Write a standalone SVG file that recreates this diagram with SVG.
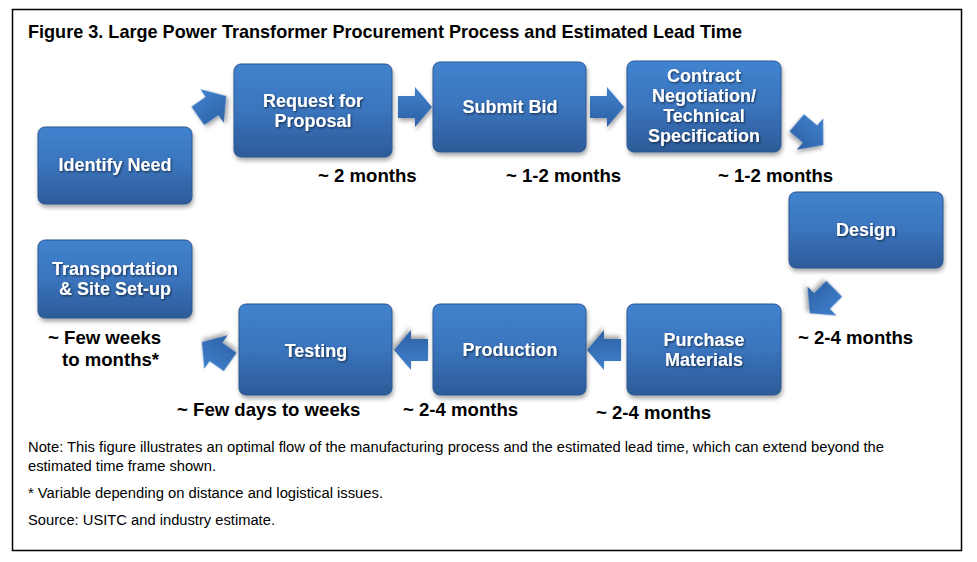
<svg xmlns="http://www.w3.org/2000/svg" width="977" height="562" viewBox="0 0 977 562">
<defs>
<linearGradient id="gBox" x1="0" y1="0" x2="0" y2="1">
<stop offset="0" stop-color="#4183cf"/>
<stop offset="0.5" stop-color="#3a74bd"/>
<stop offset="1" stop-color="#2d5b98"/>
</linearGradient>
<linearGradient id="gArr" x1="0" y1="0" x2="0" y2="1">
<stop offset="0" stop-color="#3f80cc"/>
<stop offset="1" stop-color="#2e62a6"/>
</linearGradient>
<filter id="sh" x="-10%" y="-10%" width="125%" height="130%">
<feDropShadow dx="1" dy="3" stdDeviation="2" flood-color="#000" flood-opacity="0.35"/>
</filter>
<filter id="tsh" x="-10%" y="-20%" width="120%" height="150%">
<feDropShadow dx="1" dy="1.2" stdDeviation="0.8" flood-color="#000" flood-opacity="0.6"/>
</filter>
<path id="arr" d="M-17,-11 H0 V-20 L17,0 L0,20 V11 H-17 Z"/>
</defs>
<style>
.box{fill:url(#gBox);stroke:#2a5690;stroke-width:1;filter:url(#sh)}
.bt{font-family:"Liberation Sans",Arial,sans-serif;font-weight:bold;font-size:18px;fill:#fff;text-anchor:middle;filter:url(#tsh)}
.lbl{font-family:"Liberation Sans",Arial,sans-serif;font-weight:bold;font-size:18.6px;fill:#000}
.note{font-family:"Liberation Sans",Arial,sans-serif;font-size:14px;fill:#000}
.ar{fill:url(#gArr);filter:url(#sh)}
</style>
<rect x="0" y="0" width="977" height="562" fill="#fff"/>
<rect x="12.5" y="9.5" width="949" height="541" fill="#fff" stroke="#000" stroke-width="1.5"/>
<text x="28" y="38" font-family="'Liberation Sans',Arial,sans-serif" font-weight="bold" font-size="19" textLength="714" lengthAdjust="spacingAndGlyphs">Figure 3. Large Power Transformer Procurement Process and Estimated Lead Time</text>

<g id="connectors">
<use href="#arr" class="ar" transform="translate(212,106) rotate(-35) scale(1.02)"/>
<use href="#arr" class="ar" transform="translate(415,107)"/>
<use href="#arr" class="ar" transform="translate(607,107)"/>
<use href="#arr" class="ar" transform="translate(810,134) rotate(40) scale(1.02)"/>
<use href="#arr" class="ar" transform="translate(822,301) rotate(135) scale(1.02)"/>
<use href="#arr" class="ar" transform="translate(604,350) rotate(180)"/>
<use href="#arr" class="ar" transform="translate(411,350) rotate(180)"/>
<use href="#arr" class="ar" transform="translate(216,352) rotate(215) scale(1.02)"/>
</g>

<g id="identify">
<rect class="box" x="38" y="127" width="154" height="77" rx="7"/>
<text class="bt" x="115" y="171">Identify Need</text>
</g>
<g id="rfp">
<rect class="box" x="234" y="64" width="158" height="93" rx="7"/>
<text class="bt" x="313" y="107">Request for</text>
<text class="bt" x="313" y="127">Proposal</text>
</g>
<g id="bid">
<rect class="box" x="433" y="62" width="153" height="90" rx="7"/>
<text class="bt" x="510" y="113">Submit Bid</text>
</g>
<g id="contract">
<rect class="box" x="627" y="61" width="154" height="91" rx="7"/>
<text class="bt" x="704" y="82">Contract</text>
<text class="bt" x="704" y="102">Negotiation/</text>
<text class="bt" x="704" y="122">Technical</text>
<text class="bt" x="704" y="142">Specification</text>
</g>
<g id="design">
<rect class="box" x="789" y="192" width="154" height="76" rx="7"/>
<text class="bt" x="866" y="236">Design</text>
</g>
<g id="purchase">
<rect class="box" x="627" y="304" width="154" height="91" rx="7"/>
<text class="bt" x="704" y="346">Purchase</text>
<text class="bt" x="704" y="366">Materials</text>
</g>
<g id="production">
<rect class="box" x="433" y="304" width="153" height="91" rx="7"/>
<text class="bt" x="510" y="356">Production</text>
</g>
<g id="testing">
<rect class="box" x="239" y="304" width="153" height="91" rx="7"/>
<text class="bt" x="316" y="357">Testing</text>
</g>
<g id="transport">
<rect class="box" x="38" y="240" width="154" height="78" rx="7"/>
<text class="bt" x="115" y="275">Transportation</text>
<text class="bt" x="115" y="295">&amp; Site Set-up</text>
</g>

<g id="labels">
<text class="lbl" x="318" y="182">~ 2 months</text>
<text class="lbl" x="506" y="182">~ 1-2 months</text>
<text class="lbl" x="718" y="182">~ 1-2 months</text>
<text class="lbl" x="798" y="344">~ 2-4 months</text>
<text class="lbl" x="596" y="419">~ 2-4 months</text>
<text class="lbl" x="403" y="416">~ 2-4 months</text>
<text class="lbl" x="177" y="416">~ Few days to weeks</text>
<text class="lbl" x="48" y="344">~ Few weeks</text>
<text class="lbl" x="62" y="366">to months*</text>
</g>

<g id="notes">
<text class="note" x="28" y="452" textLength="856" lengthAdjust="spacingAndGlyphs">Note: This figure illustrates an optimal flow of the manufacturing process and the estimated lead time, which can extend beyond the</text>
<text class="note" x="28" y="471" textLength="188" lengthAdjust="spacingAndGlyphs">estimated time frame shown.</text>
<text class="note" x="28" y="498" textLength="355" lengthAdjust="spacingAndGlyphs">* Variable depending on distance and logistical issues.</text>
<text class="note" x="28" y="525" textLength="247" lengthAdjust="spacingAndGlyphs">Source: USITC and industry estimate.</text>
</g>
</svg>
